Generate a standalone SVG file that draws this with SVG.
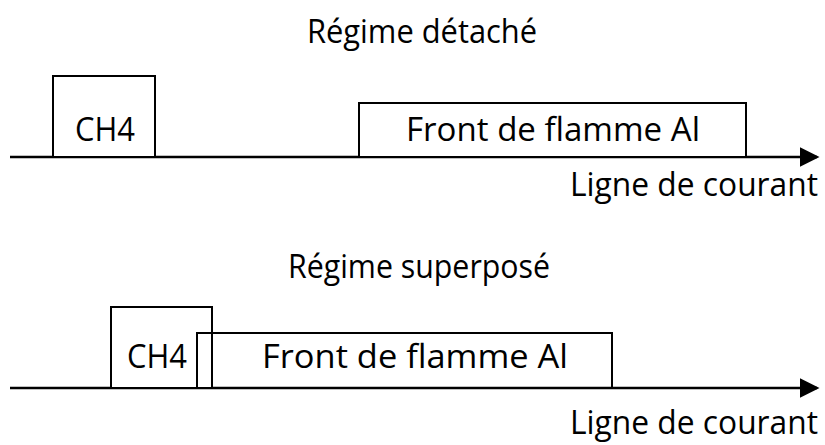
<svg xmlns="http://www.w3.org/2000/svg" width="825" height="445" viewBox="0 0 825 445">
<style>
text{font-family:"Open Sans","Liberation Sans",sans-serif;fill:#000;font-size:32px}
.box{fill:#fff;stroke:#000;stroke-width:2}
.axis{stroke:#000;stroke-width:2.5;fill:none}
</style>
<defs>
<marker id="arr" markerWidth="8" markerHeight="8" refX="7" refY="4" orient="auto" markerUnits="strokeWidth">
<path d="M0,0 L8,4 L0,8 z" fill="#000"/>
</marker>
</defs>
<text x="422" y="43" text-anchor="middle" textLength="230" lengthAdjust="spacingAndGlyphs">Régime détaché</text>
<text x="419" y="278" text-anchor="middle" textLength="262" lengthAdjust="spacingAndGlyphs">Régime superposé</text>
<g id="connectors">
<line class="axis" x1="10" y1="157" x2="817" y2="157" marker-end="url(#arr)"/>
<line class="axis" x1="10" y1="388" x2="817" y2="388" marker-end="url(#arr)"/>
</g>
<g id="ch4-top">
<rect class="box" x="53" y="76" width="102" height="81"/>
<text x="105" y="141" text-anchor="middle" textLength="60" lengthAdjust="spacingAndGlyphs">CH4</text>
</g>
<g id="front-top">
<rect class="box" x="359" y="103" width="387" height="54"/>
<text x="553" y="141" text-anchor="middle" textLength="294" lengthAdjust="spacingAndGlyphs">Front de flamme Al</text>
</g>
<g id="ch4-bottom">
<rect class="box" x="111" y="307" width="101" height="81"/>
<text x="157" y="368" text-anchor="middle" textLength="60" lengthAdjust="spacingAndGlyphs">CH4</text>
</g>
<g id="front-bottom">
<rect x="197" y="333" width="415" height="55" fill="none" stroke="#000" stroke-width="2"/>
<text x="415" y="368" text-anchor="middle" textLength="306" lengthAdjust="spacingAndGlyphs">Front de flamme Al</text>
</g>
<text x="818" y="196" text-anchor="end" textLength="248" lengthAdjust="spacingAndGlyphs">Ligne de courant</text>
<text x="818" y="434" text-anchor="end" textLength="248" lengthAdjust="spacingAndGlyphs">Ligne de courant</text>
</svg>
